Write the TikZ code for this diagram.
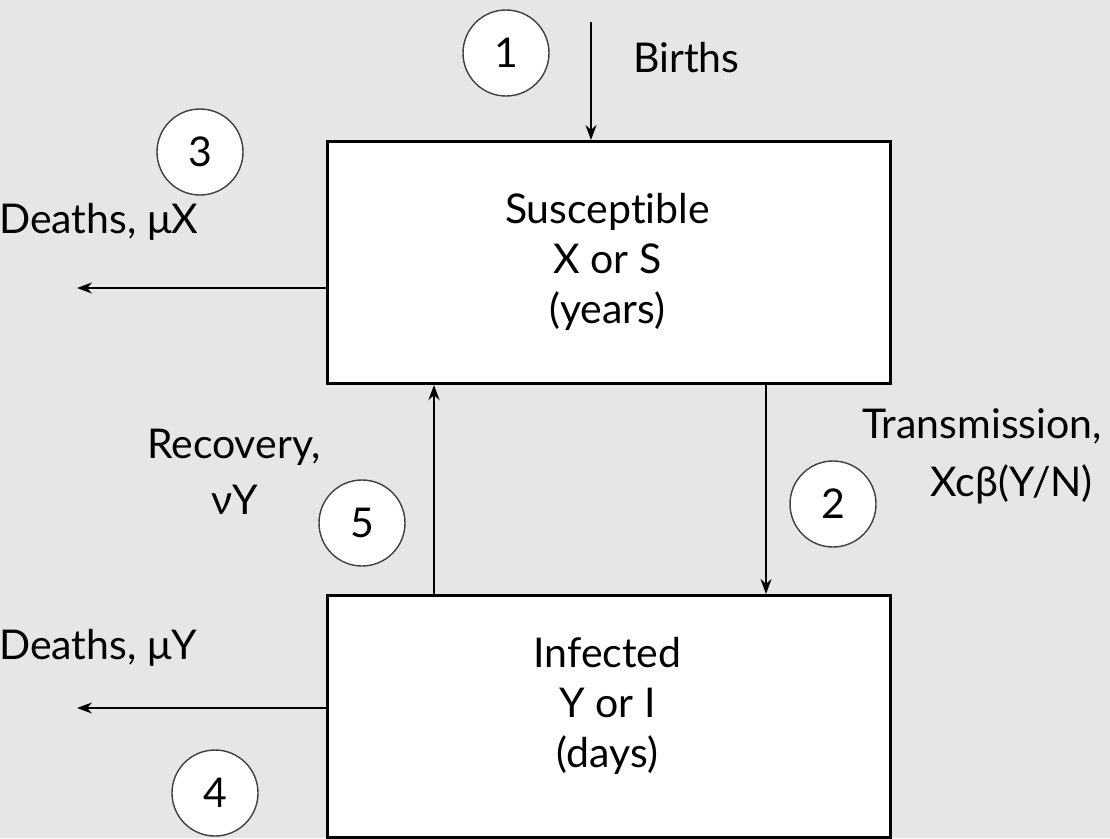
\documentclass[tikz,border=0pt]{standalone}
\usepackage{fontspec}
\setmainfont{Lato}[Ligatures=CommonOff]
\usetikzlibrary{arrows.meta}
\definecolor{bg}{HTML}{E6E6E6}
\begin{document}
\begin{tikzpicture}[x=1pt,y=-1pt,
  lbl/.style={font=\fontsize{41}{50}\selectfont, inner sep=0pt, align=center},
  compbox/.style={draw=black, line width=3pt, fill=white, minimum width=563pt, minimum height=242pt, inner sep=0pt, anchor=north west},
  num/.style={circle, draw=black!75, line width=1.4pt, fill=white, minimum size=86pt, inner sep=0pt, font=\fontsize{41}{50}\selectfont},
  flow/.style={line width=2.4pt, -{Stealth[length=15pt,width=11pt]}}]
\fill[bg] (0,0) rectangle (1110,838);
\useasboundingbox (0,0) rectangle (1110,838);
% boxes
\node[compbox] (S) at (326,140) {};
\node[compbox] (I) at (326,594) {};
\node[lbl] (St) at (607.5,262) {Susceptible\\X or S\\(years)};
\node[lbl] (It) at (607.5,706) {Infected\\Y or I\\(days)};
% coordinates
\coordinate (bstart) at (591,22);
\coordinate (d3end) at (77,288);
\coordinate (d4end) at (77,708);
% arrows
\draw[flow] (bstart) -- (bstart |- S.north);
\draw[flow] (S.west |- d3end) -- (d3end);
\draw[flow] (I.west |- d4end) -- (d4end);
\draw[flow] (S.south -| 766,0) -- (I.north -| 766,0);
\draw[flow] (I.north -| 434,0) -- (S.south -| 434,0);
% circles
\node[num] (n1) at (506,53) {1};
\node[num] (n2) at (833,504) {2};
\node[num] (n3) at (200,152) {3};
\node[num] (n4) at (215,793) {4};
\node[num] (n5) at (362,523) {5};
% labels
\node[lbl, anchor=west] (births) at (633,58) {Births};
\node[lbl, anchor=west] (d3) at (-1,222) {Deaths, μX};
\node[lbl, anchor=west] (d4) at (-1,648) {Deaths, μY};
\node[lbl, anchor=east] (tr1) at (1102,426) {Transmission,};
\node[lbl, anchor=east] (tr2) at (1093,484) {Xcβ(Y/N)};
\node[lbl] (rec1) at (234,447) {Recovery,};
\node[lbl] (rec2) at (235,500) {νY};
\end{tikzpicture}
\end{document}
